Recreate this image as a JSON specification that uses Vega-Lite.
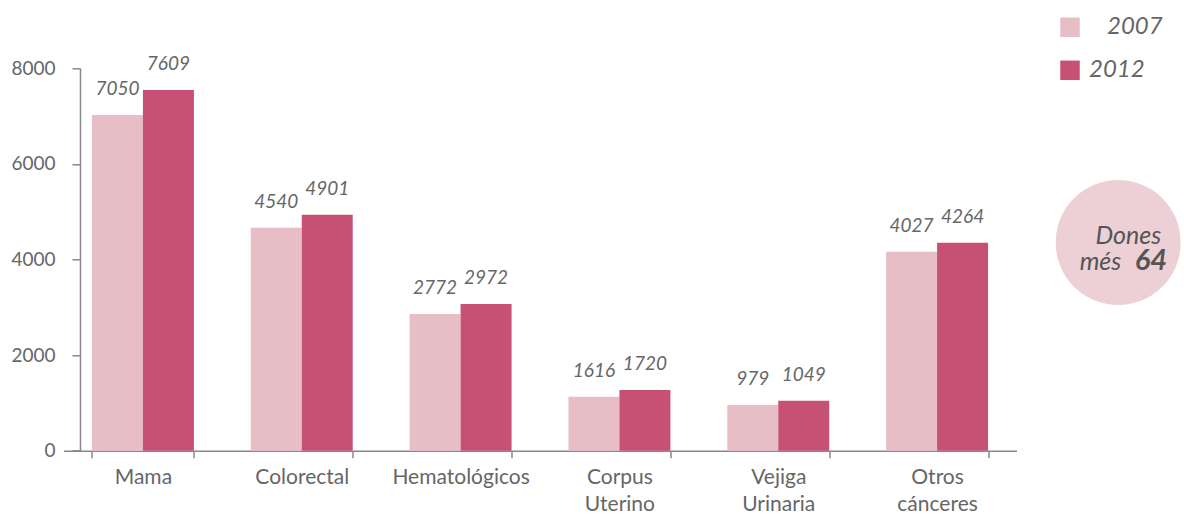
{
  "$schema": "https://vega.github.io/schema/vega-lite/v6.json",
  "width": 953,
  "height": 382.4,
  "autosize": {"type": "none"},
  "padding": {"left": 63.5, "top": 68.3, "right": 167.5, "bottom": 65.3},
  "background": "white",
  "config": {"view": {"stroke": null}, "font": "Lato"},
  "layer": [
    {
      "data": {
        "values": [
          {"cat": "Mama", "year": "2007", "value": 7023, "label": "7050"},
          {"cat": "Mama", "year": "2012", "value": 7546, "label": "7609"},
          {"cat": "Colorectal", "year": "2007", "value": 4665, "label": "4540"},
          {"cat": "Colorectal", "year": "2012", "value": 4937, "label": "4901"},
          {"cat": "Hematológicos", "year": "2007", "value": 2860, "label": "2772"},
          {"cat": "Hematológicos", "year": "2012", "value": 3069, "label": "2972"},
          {"cat": "Corpus Uterino", "year": "2007", "value": 1130, "label": "1616"},
          {"cat": "Corpus Uterino", "year": "2012", "value": 1270, "label": "1720"},
          {"cat": "Vejiga Urinaria", "year": "2007", "value": 956, "label": "979"},
          {"cat": "Vejiga Urinaria", "year": "2012", "value": 1046, "label": "1049"},
          {"cat": "Otros cánceres", "year": "2007", "value": 4163, "label": "4027"},
          {"cat": "Otros cánceres", "year": "2012", "value": 4351, "label": "4264"}
        ]
      },
      "layer": [
        {
          "mark": {"type": "bar"},
          "encoding": {
            "x": {
              "field": "cat", "type": "nominal", "sort": null,
              "scale": {"paddingInner": 0.358, "paddingOuter": 0.179},
              "axis": {
                "title": null, "labelAngle": 0, "tickBand": "extent",
                "domainColor": "#888888", "domainWidth": 1.5, "tickColor": "#888888", "tickWidth": 1.5, "tickSize": 7,
                "labelFont": "Lato", "labelFontSize": 21, "labelColor": "#666666",
                "labelPadding": 9, "labelLineHeight": 27,
                "labelExpr": "datum.value ? split(datum.value, ' ') : ''"
              }
            },
            "xOffset": {"field": "year", "type": "nominal", "scale": {"paddingInner": 0, "paddingOuter": 0}},
            "y": {
              "field": "value", "type": "quantitative",
              "scale": {"domain": [0, 8000], "nice": false},
              "axis": {
                "title": null, "grid": false, "values": [0, 2000, 4000, 6000, 8000], "format": "d", "offset": -16.5,
                "domainColor": "#888888", "domainWidth": 1.5, "tickColor": "#888888", "tickWidth": 1.5, "tickSize": 8,
                "labelFont": "Lato", "labelFontSize": 19, "labelColor": "#666666", "labelPadding": 17
              }
            },
            "color": {
              "field": "year", "type": "nominal",
              "scale": {"domain": ["2007", "2012"], "range": ["#e8bec6", "#c75175"]},
              "legend": {
                "orient": "none", "legendX": 994.5, "legendY": -53, "title": null, "padding": 0,
                "symbolType": "square", "symbolSize": 380, "symbolStrokeWidth": 0, "symbolOpacity": 1,
                "labelFont": "Lato", "labelFontSize": 24, "labelFontStyle": "italic", "labelColor": "#666666",
                "labelOffset": 7, "rowPadding": 19,
                "labelExpr": "datum.index == 0 ? '\u2800' + datum.label : datum.label"
              }
            }
          }
        },
        {
          "mark": {"type": "text", "baseline": "alphabetic", "dy": -20, "font": "Lato", "fontSize": 19, "fontStyle": "italic", "color": "#666666"},
          "encoding": {
            "x": {"field": "cat", "type": "nominal", "sort": null},
            "xOffset": {"field": "year", "type": "nominal"},
            "y": {"field": "value", "type": "quantitative"},
            "text": {"field": "label"}
          }
        }
      ]
    },
    {
      "data": {"values": [{"note": "Dones més 64"}]},
      "layer": [
        {
          "mark": {"type": "point", "shape": "circle", "filled": true, "opacity": 1, "color": "#ecd0d6", "size": 15625},
          "encoding": {
            "x": {"datum": 6.64, "type": "quantitative", "scale": {"domain": [0, 6], "nice": false, "zero": false}, "axis": null},
            "y": {"datum": 4356, "type": "quantitative"}
          }
        },
        {
          "mark": {"type": "text", "text": "Dones", "align": "center", "baseline": "alphabetic", "font": "Lato", "fontSize": 25, "fontStyle": "italic", "color": "#555555"},
          "encoding": {
            "x": {"datum": 6.704, "type": "quantitative"},
            "y": {"datum": 4324, "type": "quantitative"}
          }
        },
        {
          "mark": {"type": "text", "text": "més", "align": "right", "baseline": "alphabetic", "font": "Lato", "fontSize": 25, "fontStyle": "italic", "color": "#555555"},
          "encoding": {
            "x": {"datum": 6.66, "type": "quantitative"},
            "y": {"datum": 3780, "type": "quantitative"}
          }
        },
        {
          "mark": {"type": "text", "text": "64", "align": "left", "baseline": "alphabetic", "font": "Lato", "fontSize": 29, "fontStyle": "italic", "fontWeight": "bold", "color": "#555555"},
          "encoding": {
            "x": {"datum": 6.745, "type": "quantitative"},
            "y": {"datum": 3780, "type": "quantitative"}
          }
        }
      ]
    }
  ],
  "resolve": {"scale": {"x": "independent", "xOffset": "independent"}, "axis": {"x": "independent"}}
}
